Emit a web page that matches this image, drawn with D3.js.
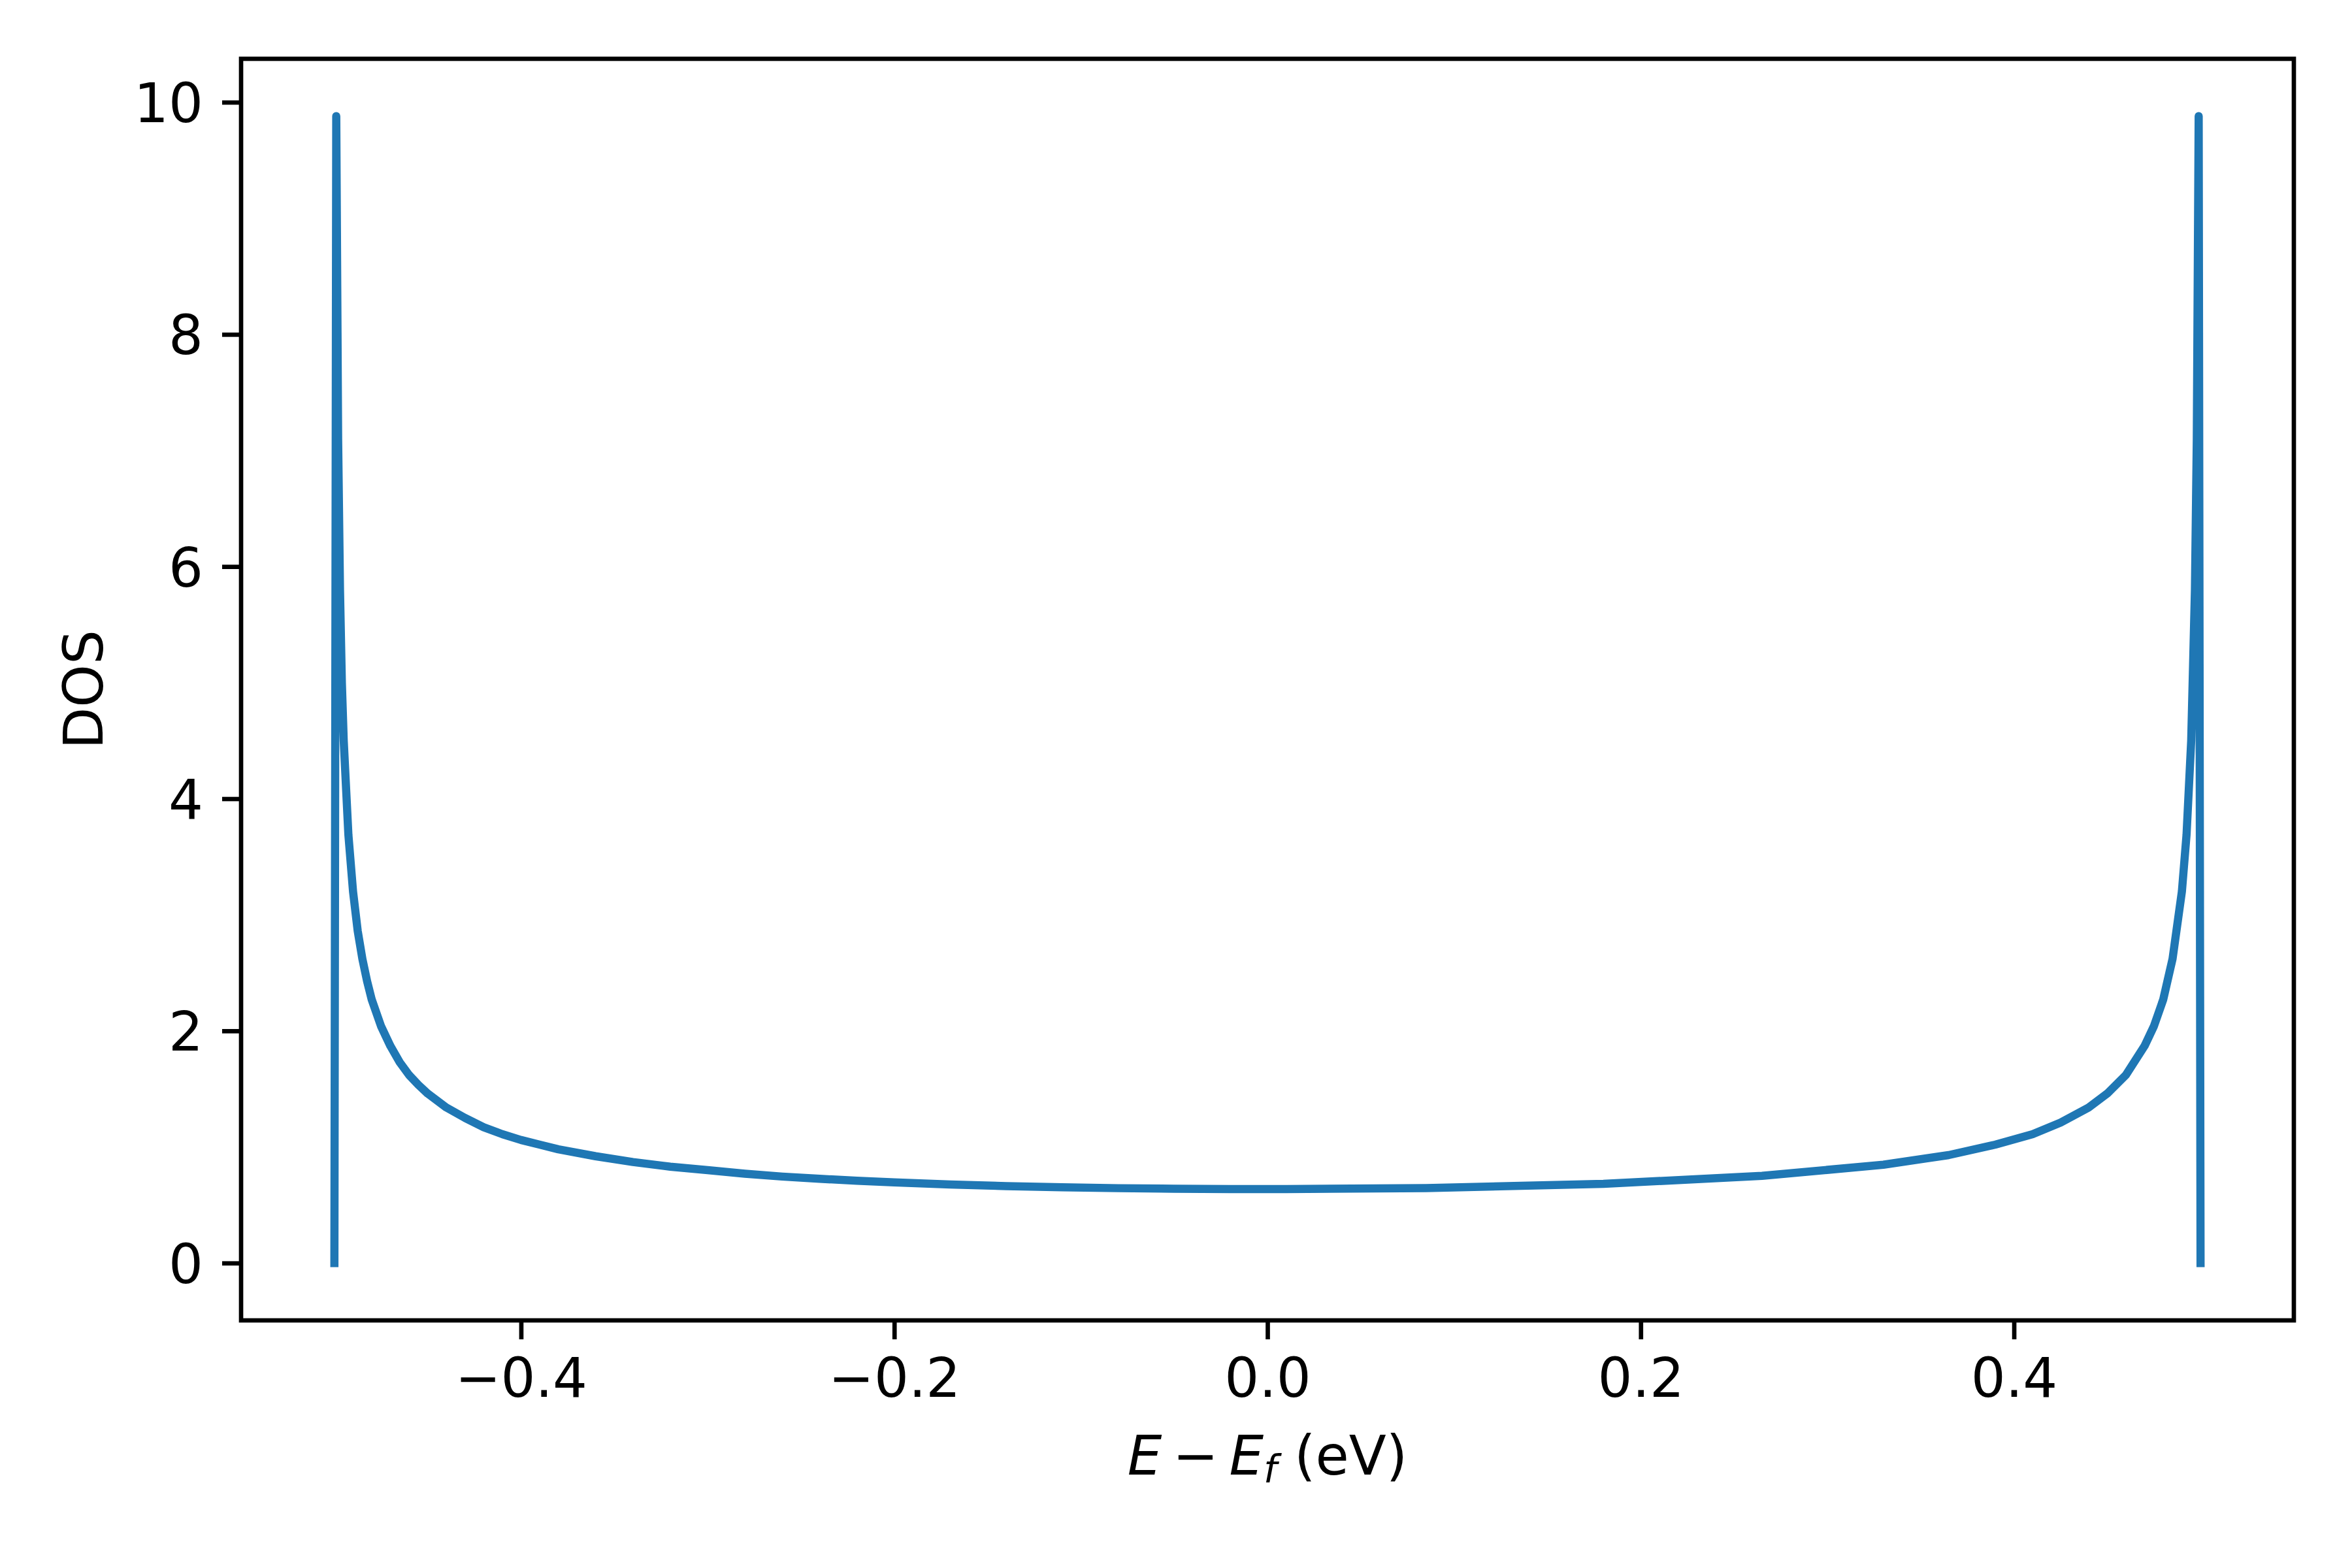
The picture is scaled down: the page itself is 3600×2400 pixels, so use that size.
<!DOCTYPE html>
<html>
<head>
<meta charset="utf-8">
<script src="https://cdn.jsdelivr.net/npm/d3@7"></script>
<style>
  body { margin: 0; background: #fff; }
  text { font-family: "DejaVu Sans", sans-serif; }
</style>
</head>
<body>
<div id="chart-area"></div>
<script>
// energy relative to Fermi level (eV)
const energy = [
  -0.5, -0.499, -0.498, -0.497, -0.496, -0.495, -0.4925, -0.49, -0.4875, -0.485,
  -0.4825, -0.48, -0.475, -0.47, -0.465, -0.46, -0.455, -0.45, -0.44, -0.43,
  -0.42, -0.41, -0.40, -0.39, -0.38, -0.36, -0.34, -0.32, -0.30, -0.28,
  -0.26, -0.24, -0.22, -0.20, -0.17, -0.14, -0.11, -0.08, -0.05, -0.02,
  0.01, 0.085, 0.18, 0.265, 0.33, 0.365, 0.39, 0.41, 0.425, 0.44,
  0.45, 0.46, 0.47, 0.475, 0.48, 0.485, 0.49, 0.4925, 0.495, 0.497,
  0.498, 0.499, 0.5
];
const dos = [
  0, 9.88, 7.1, 5.8, 5.0, 4.5, 3.69, 3.2, 2.86, 2.62,
  2.43, 2.27, 2.04, 1.87, 1.73, 1.62, 1.535, 1.46, 1.34, 1.25,
  1.17, 1.11, 1.06, 1.02, 0.98, 0.92, 0.87, 0.83, 0.80, 0.77,
  0.745, 0.726, 0.709, 0.695, 0.677, 0.663, 0.653, 0.645, 0.640, 0.637,
  0.637, 0.646, 0.682, 0.751, 0.847, 0.93, 1.02, 1.11, 1.21, 1.34,
  1.46, 1.62, 1.87, 2.04, 2.27, 2.62, 3.2, 3.69, 4.5, 5.8,
  7.1, 9.88, 0
];
const xTicks = [-0.4, -0.2, 0.0, 0.2, 0.4];
const yTicks = [0, 2, 4, 6, 8, 10];

const chartSize = { width: 3600, height: 2400 };
const margin = { left: 369, right: 89, top: 90, bottom: 379 };
const width = chartSize.width - margin.left - margin.right;
const height = chartSize.height - margin.top - margin.bottom;

const fontSize = 83.3;
const spineWidth = 6.67;
const tickLen = 29;
const tickPad = 29;

// matplotlib style 5% margins around the data
const padded = function(values) {
  const [lo, hi] = d3.extent(values);
  const pad = (hi - lo) * 0.05;
  return [lo - pad, hi + pad];
};

const svg = d3
  .select("#chart-area")
  .append("svg")
  .attr("width", chartSize.width)
  .attr("height", chartSize.height);

const g = svg
  .append("g")
  .attr("transform", `translate(${margin.left},${margin.top})`);

const x = d3.scaleLinear().domain(padded(energy)).range([0, width]);
const y = d3.scaleLinear().domain(padded(dos)).range([height, 0]);

const points = energy.map((e, i) => ({ e, d: dos[i] }));

const line = d3
  .line()
  .x(p => x(p.e))
  .y(p => y(p.d));

g.append("path")
  .attr("d", line(points))
  .attr("fill", "none")
  .attr("stroke", "#1f77b4")
  .attr("stroke-width", 12.5)
  .attr("stroke-linejoin", "round")
  .attr("stroke-linecap", "square");

const xAxis = d3
  .axisBottom(x)
  .tickValues(xTicks)
  .tickFormat(d3.format(".1f"))
  .tickSize(tickLen)
  .tickPadding(tickPad);

const yAxis = d3
  .axisLeft(y)
  .tickValues(yTicks)
  .tickFormat(d3.format("d"))
  .tickSize(tickLen)
  .tickPadding(tickPad);

const styleAxis = function(sel) {
  sel.select(".domain").remove();
  sel.selectAll(".tick line")
    .attr("stroke", "#000")
    .attr("stroke-width", spineWidth);
  sel.selectAll(".tick text")
    .attr("fill", "#000")
    .style("font-family", "'DejaVu Sans', sans-serif")
    .style("font-size", fontSize + "px");
};

g.append("g")
  .attr("transform", `translate(0,${height})`)
  .call(xAxis)
  .call(styleAxis);

g.append("g")
  .call(yAxis)
  .call(styleAxis)
  .selectAll(".tick text")
  .attr("dy", "0.36em");

// axes frame
g.append("rect")
  .attr("width", width)
  .attr("height", height)
  .attr("fill", "none")
  .attr("stroke", "#000")
  .attr("stroke-width", spineWidth);

// x label: E − E_f (eV)
const xl = g.append("text")
  .attr("x", width / 2)
  .attr("y", height + 236)
  .attr("text-anchor", "middle")
  .style("font-size", fontSize + "px")
  .attr("fill", "#000");
xl.append("tspan").style("font-style", "italic").text("E");
xl.append("tspan").text("\u2009\u2212\u2009");
xl.append("tspan").style("font-style", "italic").text("E");
xl.append("tspan")
  .style("font-style", "italic")
  .style("font-size", (fontSize * 0.7) + "px")
  .attr("dy", 12)
  .text("f");
xl.append("tspan").attr("dy", -12).text(" (eV)");

// y label
g.append("text")
  .attr("transform", `translate(${157 - margin.left},${height / 2}) rotate(-90)`)
  .attr("text-anchor", "middle")
  .style("font-size", fontSize + "px")
  .attr("fill", "#000")
  .text("DOS");
</script>
</body>
</html>
